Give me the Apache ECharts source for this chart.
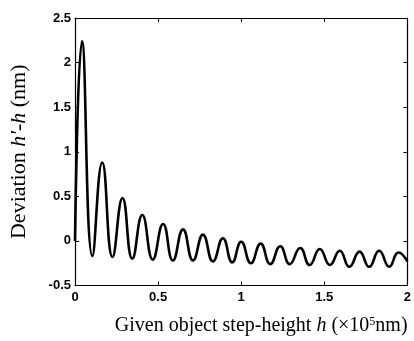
<!DOCTYPE html>
<html>
<head>
<meta charset="utf-8">
<script src="https://cdn.jsdelivr.net/npm/echarts@6/dist/echarts.min.js"></script>
<style>
  html, body { margin: 0; padding: 0; background: #fff; }
  #chart { width: 414px; height: 341px; }
</style>
</head>
<body>
<div id="chart"></div>
<script>
// extrema of the oscillation
const stepHeight = [0, 0.042, 0.105, 0.164, 0.226, 0.286, 0.345, 0.405, 0.468, 0.53, 0.589, 0.65, 0.71, 0.77, 0.83, 0.89, 0.946, 1.0, 1.058, 1.117, 1.175, 1.235, 1.292, 1.355, 1.412, 1.473, 1.534, 1.593, 1.651, 1.712, 1.77, 1.83, 1.891, 1.946, 2.0];
const deviation = [0, 2.24, -0.17, 0.88, -0.18, 0.48, -0.2, 0.29, -0.21, 0.19, -0.22, 0.13, -0.22, 0.07, -0.23, 0.03, -0.24, -0.01, -0.25, -0.03, -0.26, -0.06, -0.26, -0.08, -0.27, -0.09, -0.27, -0.11, -0.29, -0.12, -0.29, -0.11, -0.29, -0.13, -0.23];

const xTicks = [0, 0.5, 1, 1.5, 2];
const yTicks = [-0.5, 0, 0.5, 1, 1.5, 2, 2.5];

const serif = "'Liberation Serif', 'DejaVu Serif', serif";
const sans = "'Liberation Sans', Arial, sans-serif";

const tickLabel = {
  color: "#000",
  fontFamily: sans,
  fontWeight: "bold",
  fontSize: 13
};

const frameAxis = {
  axisLine: { show: true, onZero: false, lineStyle: { color: "#000", width: 1.2 } },
  axisTick: { show: true, inside: true, length: 4, lineStyle: { color: "#000" } },
  splitLine: { show: false }
};

const chart = echarts.init(document.getElementById("chart"));

chart.setOption({
  animation: false,
  backgroundColor: "#fff",
  grid: { left: 73, right: 6, top: 18, bottom: 54 },
  xAxis: [
    {
      type: "value",
      min: 0,
      max: 2,
      interval: 0.5,
      ...frameAxis,
      axisLabel: {
        ...tickLabel,
        margin: 5,
        formatter: v => (xTicks.includes(v) ? String(v) : "")
      },
      name: "{a|Given object step-height }{i|h}{a| (×10}{s|5}{a|nm)}",
      nameLocation: "middle",
      nameGap: 30,
      nameTextStyle: {
        padding: [0, 0, 0, 40],
        rich: {
          a: { fontFamily: serif, fontSize: 20, color: "#000" },
          i: { fontFamily: serif, fontSize: 20, fontStyle: "italic", color: "#000" },
          s: { fontFamily: serif, fontSize: 12, color: "#000", verticalAlign: "top", padding: [0, 0, 9, 0] }
        }
      }
    },
    {
      type: "value",
      position: "top",
      min: 0,
      max: 2,
      interval: 0.5,
      ...frameAxis,
      axisLabel: { show: false }
    }
  ],
  yAxis: [
    {
      type: "value",
      min: -0.5,
      max: 2.5,
      interval: 0.5,
      ...frameAxis,
      axisLabel: {
        ...tickLabel,
        margin: 4,
        formatter: v => (yTicks.includes(v) ? String(v) : "")
      },
      name: "{a|Deviation }{i|h'}{a|-}{i|h}{a| (nm)}",
      nameLocation: "middle",
      nameGap: 45,
      nameTextStyle: {
        rich: {
          a: { fontFamily: serif, fontSize: 22, color: "#000" },
          i: { fontFamily: serif, fontSize: 22, fontStyle: "italic", color: "#000" }
        }
      }
    },
    {
      type: "value",
      position: "right",
      min: -0.5,
      max: 2.5,
      interval: 0.5,
      ...frameAxis,
      axisLabel: { show: false }
    }
  ],
  series: [
    {
      type: "line",
      data: stepHeight.map((x, i) => [x, deviation[i]]),
      smooth: 0.5,
      showSymbol: false,
      lineStyle: { color: "#000", width: 2.6 },
      clip: true
    }
  ]
});
</script>
</body>
</html>
